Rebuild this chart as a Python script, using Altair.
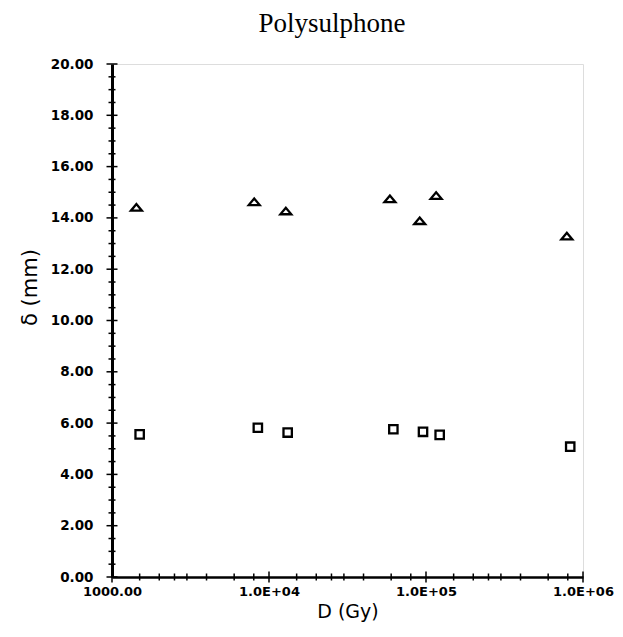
import altair as alt
import pandas as pd

# Data
tri_x = [1430, 8050, 12800, 58900, 116000, 91200, 789000]
tri_y = [14.41, 14.63, 14.27, 14.74, 14.87, 13.89, 13.29]
sq_x = [1500, 8490, 13150, 61950, 95700, 122200, 829000]
sq_y = [5.56, 5.82, 5.63, 5.76, 5.66, 5.54, 5.08]

x_tick_values = [1000, 10000, 100000, 1000000]
x_tick_labels = ["1000.00", "1.0E+04", "1.0E+05", "1.0E+06"]
x_minor_mult = [1.5, 2, 2.5, 3, 4, 6, 8]
y_tick_values = [0, 2, 4, 6, 8, 10, 12, 14, 16, 18, 20]
y_minor_values = [v / 2 for v in range(0, 41) if v % 4 != 0]
chart_title = "Polysulphone"

x_minor = [m * d for d in x_tick_values[:-1] for m in x_minor_mult]

tri_df = pd.DataFrame({"D": tri_x, "delta": tri_y})
sq_df = pd.DataFrame({"D": sq_x, "delta": sq_y})
xmaj_df = pd.DataFrame({"v": x_tick_values})
xmin_df = pd.DataFrame({"v": x_minor})
ymaj_df = pd.DataFrame({"v": y_tick_values})
ymin_df = pd.DataFrame({"v": y_minor_values})

label_expr = "[" + ",".join('"%s"' % s for s in x_tick_labels) + "][indexof([" + \
    ",".join(str(v) for v in x_tick_values) + "], datum.value)]"

xscale = alt.Scale(type="log", domain=[1000, 1000000], nice=False)
yscale = alt.Scale(domain=[0, 20], nice=False, zero=False)

xaxis = alt.Axis(values=x_tick_values, labelExpr=label_expr, ticks=False, grid=False,
                 domainColor="black", domainWidth=2.5, labelFont="DejaVu Sans",
                 labelFontWeight="bold", labelFontSize=13, labelColor="black",
                 labelPadding=8, labelOverlap=False, labelFlush=False,
                 title="D (Gy)", titleFont="DejaVu Sans", titleFontSize=19,
                 titleFontWeight="normal", titleColor="black", titlePadding=4)
yaxis = alt.Axis(values=y_tick_values, format=".2f", ticks=False, grid=False,
                 domainColor="black", domainWidth=3, labelFont="DejaVu Sans",
                 labelFontWeight="bold", labelFontSize=13.5, labelColor="black",
                 labelPadding=19, labelOverlap=False, labelFlush=False,
                 title="δ (mm)", titleFont="DejaVu Sans", titleFontSize=21,
                 titleFontWeight="normal", titleColor="black",
                 titleX=-72, titleY=223, titleBaseline="bottom", titleAngle=270)

flat_triangle = "M-1,0.6L1,0.6L0,-0.6Z"

tri = alt.Chart(tri_df).mark_point(shape=flat_triangle, filled=False, color="black",
                                   strokeWidth=2.3, size=120, opacity=1).encode(
    x=alt.X("D:Q", scale=xscale, axis=xaxis),
    y=alt.Y("delta:Q", scale=yscale, axis=yaxis),
)
sq = alt.Chart(sq_df).mark_point(shape="square", filled=False, color="black",
                                 strokeWidth=2.3, size=70, opacity=1).encode(
    x=alt.X("D:Q", scale=xscale),
    y=alt.Y("delta:Q", scale=yscale),
)

xmaj = alt.Chart(xmaj_df).mark_tick(orient="vertical", size=11, thickness=1.5,
                                    color="black", opacity=1).encode(
    x=alt.X("v:Q", scale=xscale), y=alt.datum(0))
xmin = alt.Chart(xmin_df).mark_tick(orient="vertical", size=7, thickness=1.5,
                                    color="black", opacity=1).encode(
    x=alt.X("v:Q", scale=xscale), y=alt.datum(0))
ymaj = alt.Chart(ymaj_df).mark_tick(orient="horizontal", size=11, thickness=1.5,
                                    color="black", opacity=1).encode(
    y=alt.Y("v:Q", scale=yscale), x=alt.datum(1000))
ymin = alt.Chart(ymin_df).mark_tick(orient="horizontal", size=7, thickness=1.5,
                                    color="black", opacity=1).encode(
    y=alt.Y("v:Q", scale=yscale), x=alt.datum(1000))

title_text = alt.Chart(pd.DataFrame({"t": [chart_title]})).mark_text(
    font="Liberation Serif", fontSize=27, color="black", align="center",
    baseline="alphabetic").encode(
    text="t:N", x=alt.value(220), y=alt.value(-32))

chart = alt.layer(xmaj, xmin, ymaj, ymin, tri, sq, title_text).properties(
    width=471, height=513,
    padding={"left": 104, "top": 56, "right": 32, "bottom": 52},
    autosize=alt.AutoSizeParams(type="none"),
).configure_view(stroke=None).configure(background="white")

chart.save("out.html", embed_options={"renderer": "svg", "actions": False})
